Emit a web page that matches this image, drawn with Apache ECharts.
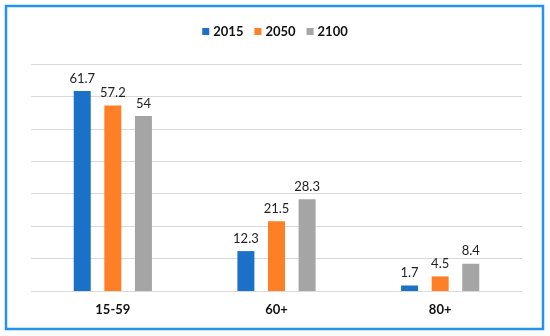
<!DOCTYPE html>
<html><head><meta charset="utf-8">
<script src="https://cdn.jsdelivr.net/npm/echarts@6/dist/echarts.min.js"></script>
<style>html,body{margin:0;padding:0;background:#fff}#c{width:550px;height:336px}</style>
</head><body><div id="c"></div>
<script>
var categories = ['15-59', '60+', '80+'];
var seriesNames = ['2015', '2050', '2100'];
var values2015 = [61.7, 12.3, 1.7];
var values2050 = [57.2, 21.5, 4.5];
var values2100 = [54, 28.3, 8.4];
var colors = ['#1B70C8', '#FF7F27', '#A5A5A5'];
var font = 'Lato, "Open Sans", sans-serif';
var chart = echarts.init(document.getElementById('c'), null, {renderer: 'canvas'});
function mk(name, data, color) {
  return {
    name: name, type: 'bar', data: data, barWidth: 17, barGap: '80%',
    itemStyle: {color: color},
    label: {show: true, position: 'top', distance: 6, color: '#222', fontSize: 13, fontFamily: font}
  };
}
chart.setOption({
  animation: false,
  textStyle: {fontFamily: font},
  graphic: [{type: 'rect', shape: {x: 6, y: 6, width: 537, height: 323},
    style: {fill: 'none', stroke: '#2193F0', lineWidth: 2.5}}],
  legend: {
    top: 20, left: 'center', itemWidth: 7, itemHeight: 7, itemGap: 11,
    icon: 'rect',
    textStyle: {fontSize: 13, fontWeight: 'bold', color: '#111', fontFamily: font, padding: [0, 0, 0, -1]}
  },
  grid: {left: 31, right: 28, top: 64, bottom: 45},
  xAxis: {
    type: 'category', data: categories,
    axisLine: {show: false}, axisTick: {show: false},
    axisLabel: {fontSize: 13, fontWeight: 'bold', color: '#111', margin: 12, fontFamily: font}
  },
  yAxis: {
    type: 'value', min: 0, max: 70, interval: 10,
    axisLabel: {show: false}, axisLine: {show: false}, axisTick: {show: false},
    splitLine: {lineStyle: {color: '#D9D9D9', width: 1}}
  },
  series: [mk(seriesNames[0], values2015, colors[0]), mk(seriesNames[1], values2050, colors[1]), mk(seriesNames[2], values2100, colors[2])]
});
</script></body></html>
